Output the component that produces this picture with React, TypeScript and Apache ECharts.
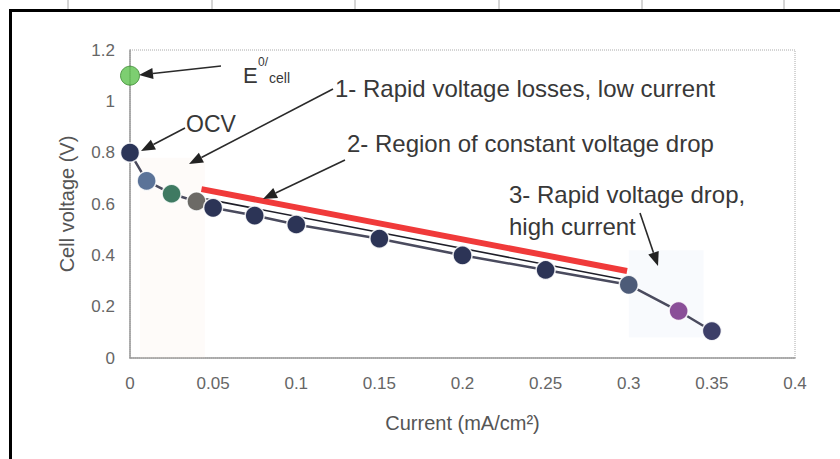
import React, { useEffect, useRef } from "react";
import * as echarts from "echarts";

// Polarization curve data
const currents = [0, 0.01, 0.025, 0.04, 0.05, 0.075, 0.1, 0.15, 0.2, 0.25, 0.3, 0.33, 0.35];
const voltages = [0.8, 0.69, 0.64, 0.61, 0.585, 0.555, 0.52, 0.465, 0.4, 0.343, 0.285, 0.183, 0.105];
const pointColors = [
  "#2b3558", "#5b7398", "#3f7a62", "#6c6a66", "#2c3456", "#2c3456", "#2c3456",
  "#2c3456", "#2c3456", "#2c3456", "#4d5b78", "#8a4f98", "#3d3f68",
];
// Theoretical potential E0 cell
const e0Current = [0];
const e0Voltage = [1.1];
// Linear-region guide lines
const redLineX = [0.043, 0.299];
const redLineY = [0.658, 0.339];
const fitLineX = [0.043, 0.3];
const fitLineY = [0.623, 0.302];
// Axis ticks
const xTicks = [0, 0.4, 0.05];
const yTicks = [0, 1.2, 0.2];

function arrow(x1: number, y1: number, x2: number, y2: number) {
  const dx = x2 - x1;
  const dy = y2 - y1;
  const len = Math.sqrt(dx * dx + dy * dy);
  const ux = dx / len;
  const uy = dy / len;
  const L = 14;
  const W = 5.5;
  const bx = x2 - L * ux;
  const by = y2 - L * uy;
  return [
    {
      type: "line",
      shape: { x1, y1, x2: bx, y2: by },
      style: { stroke: "#2a2a2a", lineWidth: 1.6 },
      z: 20,
    },
    {
      type: "polygon",
      shape: {
        points: [
          [x2, y2],
          [bx - W * uy, by + W * ux],
          [bx + W * uy, by - W * ux],
        ],
      },
      style: { fill: "#222" },
      z: 20,
    },
  ];
}

const annFont = "Liberation Sans, Arial, sans-serif";

export default function App() {
  const ref = useRef<HTMLDivElement>(null);
  useEffect(() => {
    if (!ref.current) return;
    const chart = echarts.init(ref.current, undefined, { renderer: "svg" });
    const mainData = currents.map((c, i) => ({
      value: [c, voltages[i]],
      itemStyle: { color: pointColors[i] },
    }));
    const textStyle = (size: number) => ({ fill: "#383838", fontSize: size, fontFamily: annFont });
    const option: any = {
      animation: false,
      backgroundColor: "#fff",
      grid: {
        left: 130,
        top: 50,
        right: 45,
        bottom: 101,
        show: true,
        borderColor: "#aaa",
        borderWidth: 1,
        borderType: "dotted",
      },
      xAxis: {
        type: "value",
        min: xTicks[0],
        max: xTicks[1],
        interval: xTicks[2],
        name: "Current (mA/cm²)",
        nameLocation: "middle",
        nameGap: 55,
        nameTextStyle: { color: "#555", fontSize: 20, fontFamily: annFont },
        axisLine: { show: true, lineStyle: { color: "#999", width: 1.5 } },
        axisTick: { show: false },
        splitLine: { show: false },
        axisLabel: { color: "#666", fontSize: 17, margin: 17, fontFamily: annFont },
      },
      yAxis: {
        type: "value",
        min: yTicks[0],
        max: yTicks[1],
        interval: yTicks[2],
        name: "Cell voltage (V)",
        nameLocation: "middle",
        nameGap: 53,
        nameRotate: 90,
        nameTextStyle: { color: "#555", fontSize: 20, fontFamily: annFont },
        axisLine: { show: true, lineStyle: { color: "#999", width: 1.5 } },
        axisTick: { show: false },
        splitLine: { show: false },
        axisLabel: { color: "#666", fontSize: 17, margin: 15, fontFamily: annFont },
      },
      series: [
        {
          name: "regions",
          type: "line",
          data: [],
          markArea: {
            silent: true,
            data: [
              [
                { xAxis: 0.006, yAxis: 0.0, itemStyle: { color: "rgba(250,225,205,0.12)" } },
                { xAxis: 0.045, yAxis: 0.78 },
              ],
              [
                { xAxis: 0.3, yAxis: 0.08, itemStyle: { color: "rgba(200,215,240,0.12)" } },
                { xAxis: 0.345, yAxis: 0.42 },
              ],
            ],
          },
        },
        {
          name: "fit",
          type: "line",
          data: fitLineX.map((x, i) => [x, fitLineY[i]]),
          symbol: "none",
          lineStyle: { color: "#1e1e28", width: 1.6 },
          z: 2,
        },
        {
          name: "red",
          type: "line",
          data: redLineX.map((x, i) => [x, redLineY[i]]),
          symbol: "none",
          lineStyle: { color: "#f03a3a", width: 6, cap: "butt" },
          z: 3,
        },
        {
          name: "polarization",
          type: "line",
          data: mainData,
          symbol: "circle",
          symbolSize: 19,
          lineStyle: { color: "#4a4b5e", width: 2.5 },
          itemStyle: { borderColor: "rgba(255,255,255,0.85)", borderWidth: 1.5 },
          z: 4,
        },
        {
          name: "E0",
          type: "scatter",
          data: e0Current.map((c, i) => [c, e0Voltage[i]]),
          symbolSize: 19,
          itemStyle: { color: "#5cc24e", borderColor: "#3d8a33", borderWidth: 1 },
          z: 5,
        },
      ],
      graphic: [
        // outer frame (scan border)
        { type: "line", shape: { x1: 10.5, y1: 9, x2: 10.5, y2: 459 }, style: { stroke: "#000", lineWidth: 3 } },
        { type: "line", shape: { x1: 9, y1: 10.5, x2: 840, y2: 10.5 }, style: { stroke: "#000", lineWidth: 3 } },
        ...[68, 212, 355, 499, 642, 784].map((x) => ({
          type: "line",
          shape: { x1: x, y1: 0, x2: x, y2: 9 },
          style: { stroke: "#aaa", lineWidth: 1 },
        })),
        // E0 cell label
        { type: "text", x: 243, y: 64, style: { text: "E", ...textStyle(22) }, z: 20 },
        { type: "text", x: 258, y: 56, style: { text: "0/", ...textStyle(12) }, z: 20 },
        { type: "text", x: 269, y: 71, style: { text: "cell", ...textStyle(14) }, z: 20 },
        ...arrow(221, 66, 139, 75),
        // OCV
        { type: "text", x: 186, y: 112, style: { text: "OCV", ...textStyle(23) }, z: 20 },
        ...arrow(185, 128, 141, 151),
        // region 1
        { type: "text", x: 335, y: 76, style: { text: "1- Rapid voltage losses, low current", ...textStyle(24) }, z: 20 },
        ...arrow(333, 89, 189, 164),
        // region 2
        { type: "text", x: 347, y: 131, style: { text: "2- Region of constant voltage drop", ...textStyle(24) }, z: 20 },
        ...arrow(345, 160, 263, 199),
        // region 3
        { type: "text", x: 509, y: 182, style: { text: "3- Rapid voltage drop,", ...textStyle(24) }, z: 20 },
        { type: "text", x: 509, y: 214, style: { text: "high current", ...textStyle(24) }, z: 20 },
        ...arrow(640, 213, 658, 266),
      ],
    };
    chart.setOption(option);
    return () => chart.dispose();
  }, []);
  return (
    <div
      ref={ref}
      style={{ position: "fixed", left: 0, top: 0, width: 840, height: 459, background: "#fff" }}
    />
  );
}
